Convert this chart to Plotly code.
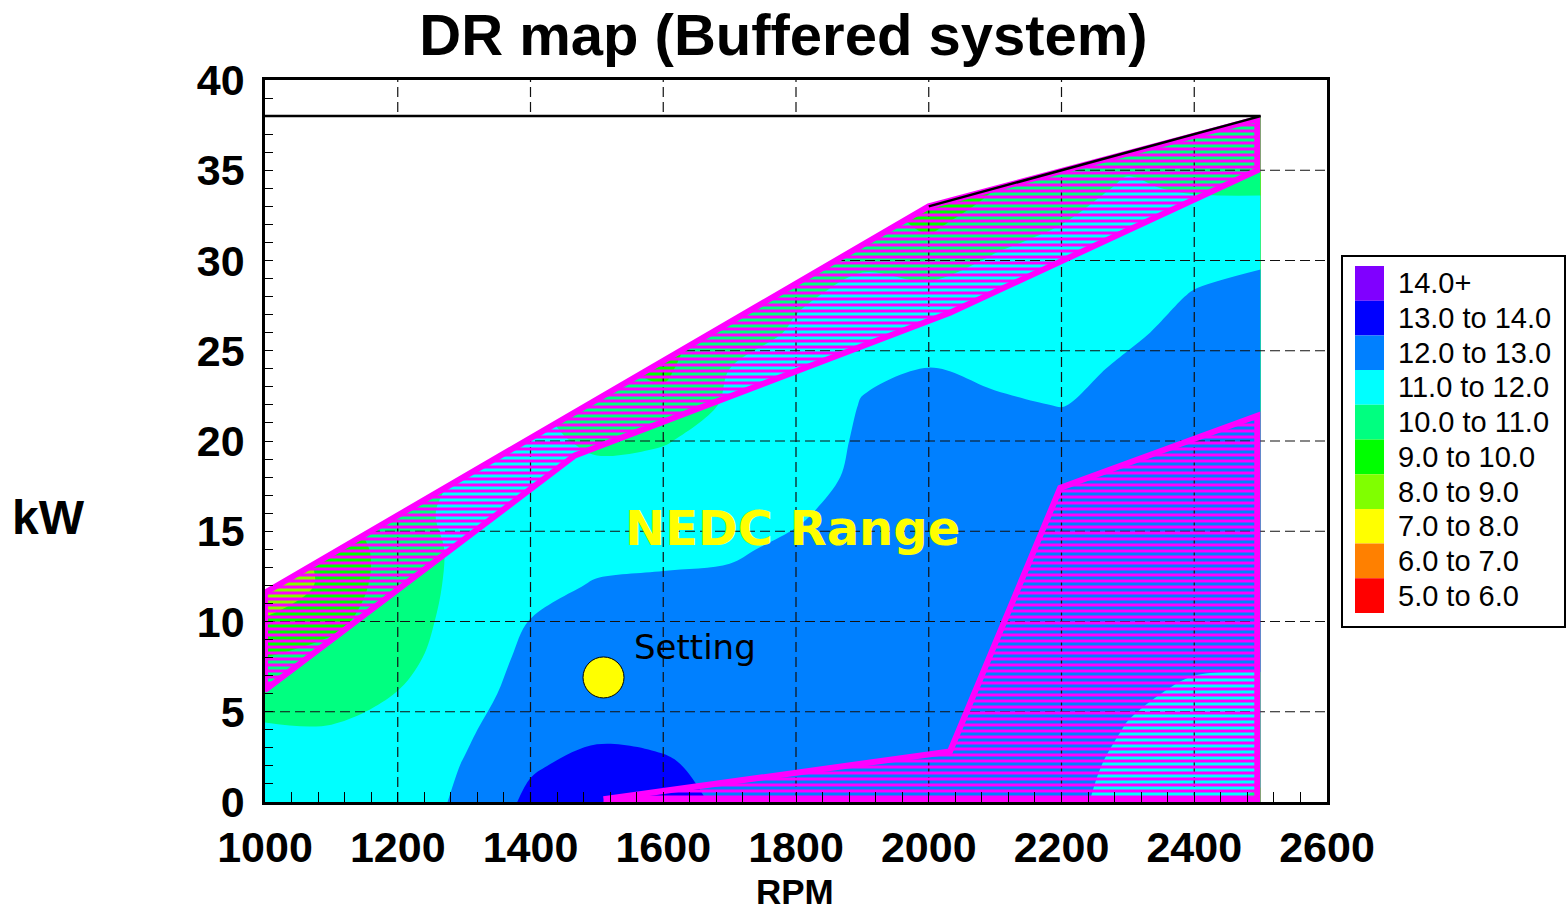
import plotly.graph_objects as go

# ---------------- data ----------------
rpm_grid = [1000, 1100, 1200, 1300, 1400, 1500, 1600, 1700, 1800, 1900, 2000, 2100, 2200, 2300, 2400, 2500]
kw_grid = [0, 2, 4, 6, 8, 10, 12, 14, 16, 18, 20, 22, 24, 26, 28, 30, 32, 34, 36, 38]

# DR value read at each rpm column, from kW 0 (first) to kW 38 (last)
dr_1000 = [11.6, 11.4, 11.1, 10.6, 10.0, 9.2, 7.6, 8.0, 8.5, 9.0, 9.0, 9.0, 9.0, 9.0, 9.0, 9.0, 9.0, 9.0, 9.0, 9.0]
dr_1100 = [11.5, 11.3, 11.05, 10.7, 10.3, 9.8, 9.5, 9.6, 9.8, 10.0, 10.0, 10.0, 10.0, 10.0, 10.0, 10.0, 10.0, 10.0, 10.0, 10.0]
dr_1200 = [11.4, 11.3, 11.15, 11.02, 10.7, 10.5, 10.4, 10.3, 10.6, 10.6, 10.6, 10.6, 10.5, 10.5, 10.5, 10.5, 10.5, 10.5, 10.5, 10.5]
dr_1300 = [12.2, 12.05, 11.85, 11.6, 11.5, 11.4, 11.3, 11.3, 11.3, 11.1, 11.0, 10.9, 10.8, 10.7, 10.6, 10.5, 10.5, 10.5, 10.5, 10.5]
dr_1400 = [13.2, 12.9, 12.6, 12.4, 12.2, 12.02, 11.8, 11.6, 11.4, 11.3, 11.15, 11.0, 10.8, 10.6, 10.5, 10.4, 10.4, 10.4, 10.4, 10.4]
dr_1500 = [13.6, 13.3, 12.8, 12.7, 12.5, 12.35, 12.05, 11.8, 11.5, 11.15, 10.9, 10.6, 10.2, 10.0, 10.0, 10.0, 10.0, 10.0, 10.0, 10.0]
dr_1600 = [13.4, 13.1, 12.8, 12.6, 12.45, 12.3, 12.1, 11.85, 11.55, 11.3, 10.95, 10.3, 9.8, 9.6, 9.6, 9.6, 9.6, 9.6, 9.6, 9.6]
dr_1700 = [12.8, 12.75, 12.6, 12.5, 12.4, 12.3, 12.15, 11.9, 11.7, 11.5, 11.3, 11.15, 11.0, 10.6, 10.2, 10.0, 10.0, 10.0, 10.0, 10.0]
dr_1800 = [12.7, 12.65, 12.6, 12.55, 12.5, 12.4, 12.3, 12.15, 11.9, 11.6, 11.4, 11.3, 11.2, 11.1, 10.9, 10.5, 10.2, 10.0, 10.0, 10.0]
dr_1900 = [12.6, 12.6, 12.55, 12.5, 12.5, 12.45, 12.4, 12.35, 12.3, 12.2, 12.15, 12.05, 11.85, 11.6, 11.2, 10.9, 10.5, 10.2, 10.0, 10.0]
dr_2000 = [12.6, 12.6, 12.6, 12.55, 12.5, 12.5, 12.45, 12.4, 12.35, 12.3, 12.25, 12.15, 12.01, 11.7, 11.3, 10.6, 9.8, 9.5, 9.5, 9.5]
dr_2100 = [12.6, 12.6, 12.6, 12.55, 12.5, 12.5, 12.45, 12.4, 12.35, 12.3, 12.25, 12.1, 11.85, 11.6, 11.35, 11.1, 10.6, 10.0, 9.8, 9.8]
dr_2200 = [12.4, 12.45, 12.5, 12.5, 12.5, 12.5, 12.45, 12.4, 12.35, 12.3, 12.2, 11.98, 11.8, 11.6, 11.4, 11.25, 11.0, 10.7, 10.4, 10.2]
dr_2300 = [11.45, 11.7, 11.95, 12.15, 12.3, 12.4, 12.4, 12.4, 12.4, 12.35, 12.3, 12.2, 12.1, 11.9, 11.7, 11.5, 11.3, 11.1, 10.8, 10.5]
dr_2400 = [11.3, 11.4, 11.6, 11.85, 12.15, 12.3, 12.35, 12.4, 12.4, 12.4, 12.4, 12.35, 12.3, 12.2, 12.05, 11.8, 11.5, 10.9, 10.7, 10.5]
dr_2500 = [10.8, 11.3, 11.6, 11.85, 12.1, 12.25, 12.3, 12.35, 12.35, 12.35, 12.35, 12.35, 12.3, 12.25, 12.15, 11.95, 11.4, 10.9, 10.6, 10.3]

# Maximum power line (top of map)
max_power_rpm = [1000, 2000, 2500]
max_power_kw = [11.6, 33.0, 38.0]

# Hatched zones (outside NEDC range)
upper_zone_rpm = [1000, 2000, 2495, 2495, 2032, 1467, 1000, 1000]
upper_zone_kw = [11.6, 33.0, 37.85, 35.0, 27.1, 19.2, 6.2, 11.6]
lower_zone_rpm = [1510, 2032, 2198, 2495, 2495, 1510]
lower_zone_kw = [0.15, 2.8, 17.4, 21.4, 0.1, 0.15]

# Setting point
setting_rpm = [1510]
setting_kw = [6.9]

# Axes ticks / grid
x_grid_vals = [1200, 1400, 1600, 1800, 2000, 2200, 2400]
y_grid_vals = [5, 10, 15, 20, 25, 30, 35]

# Legend
legend_labels = ["14.0+", "13.0 to 14.0", "12.0 to 13.0", "11.0 to 12.0", "10.0 to 11.0",
                 "9.0 to 10.0", "8.0 to 9.0", "7.0 to 8.0", "6.0 to 7.0", "5.0 to 6.0"]
legend_colors = ["#8000FF", "#0000FF", "#0080FF", "#00FFFF", "#00FF80",
                 "#00FF00", "#80FF00", "#FFFF00", "#FF8000", "#FF0000"]

# ---------------- build ----------------
W, H = 1567, 911
L, R, T, B = 265, 1327, 80, 802


def px_x(p):
    return (p - L) / (R - L)


def px_y(p):
    return (B - p) / (B - T)


columns = [dr_1000, dr_1100, dr_1200, dr_1300, dr_1400, dr_1500, dr_1600, dr_1700,
           dr_1800, dr_1900, dr_2000, dr_2100, dr_2200, dr_2300, dr_2400, dr_2500]
z = [[col[i] for col in columns] for i in range(len(kw_grid))]

band_colors = ["#FF0000"] + legend_colors[::-1]
n = len(band_colors) - 1
colorscale = [[i / n, c] for i, c in enumerate(band_colors)]

fig = go.Figure()

fig.add_trace(go.Contour(
    x=rpm_grid, y=kw_grid, z=z,
    autocontour=False,
    contours=dict(start=5, end=14, size=1, coloring="fill", showlines=False),
    colorscale=colorscale, showscale=False,
    line=dict(width=0), hoverinfo="skip",
))

# grid lines drawn over the map
gx, gy = [], []
for v in x_grid_vals:
    gx += [v, v, None]
    gy += [0, 40, None]
hx, hy = [], []
for v in y_grid_vals:
    hx += [1000, 2600, None]
    hy += [v, v, None]
grid_line = dict(color="#111111", width=1.2, dash="10px,5px")
fig.add_trace(go.Scatter(x=gx, y=gy, mode="lines", line=grid_line, hoverinfo="skip", showlegend=False))
fig.add_trace(go.Scatter(x=hx, y=hy, mode="lines", line=grid_line, hoverinfo="skip", showlegend=False))

# white area above the maximum power line
mask_x = max_power_rpm + [max_power_rpm[-1], max_power_rpm[0]]
mask_y = max_power_kw + [38, 38]
fig.add_trace(go.Scatter(x=mask_x, y=mask_y, fill="toself", fillcolor="white", mode="lines",
                         line=dict(width=0, color="white"), hoverinfo="skip", showlegend=False))

hatch = dict(shape="-", fgcolor="#FF00FF", bgcolor="rgba(0,0,0,0)", size=6, solidity=0.5,
             fgopacity=1)
for xs, ys in [(upper_zone_rpm, upper_zone_kw), (lower_zone_rpm, lower_zone_kw)]:
    fig.add_trace(go.Scatter(x=xs, y=ys, fill="toself", fillcolor="rgba(0,0,0,0)", fillpattern=hatch,
                             mode="lines", line=dict(color="#FF00FF", width=6),
                             hoverinfo="skip", showlegend=False))

# black border of the map (top + max power beyond 2000 rpm)
fig.add_trace(go.Scatter(x=[max_power_rpm[0], max_power_rpm[-1], max_power_rpm[1]],
                         y=[38, max_power_kw[-1], max_power_kw[1]],
                         mode="lines", line=dict(color="black", width=2.5),
                         hoverinfo="skip", showlegend=False))

fig.add_trace(go.Scatter(x=setting_rpm, y=setting_kw, mode="markers",
                         marker=dict(size=41, color="#FFFF00", line=dict(color="black", width=1)),
                         hoverinfo="skip", showlegend=False))

annotations = [
    dict(x=1553, y=8.6, xref="x", yref="y", text="Setting", showarrow=False, xanchor="left",
         yanchor="middle", font=dict(family="DejaVu Sans", size=34, color="black")),
    dict(x=1795, y=15.2, xref="x", yref="y", text="NEDC Range", showarrow=False,
         xanchor="center", yanchor="middle",
         font=dict(family="DejaVu Sans", size=48, color="#FFFF00", weight="bold")),
    dict(x=px_x(48), y=px_y(517), xref="paper", yref="paper", text="kW", showarrow=False,
         xanchor="center", yanchor="middle",
         font=dict(family="Liberation Sans", size=48, color="black", weight="bold")),
    dict(x=px_x(795), y=px_y(892), xref="paper", yref="paper", text="RPM", showarrow=False,
         xanchor="center", yanchor="middle",
         font=dict(family="Liberation Sans", size=35, color="black", weight="bold")),
]

shapes = [dict(type="rect", xref="paper", yref="paper", x0=px_x(1342), x1=px_x(1565),
               y0=px_y(627), y1=px_y(256), line=dict(color="black", width=2), fillcolor="white",
               layer="above")]
row_h = 34.7
for i, (lab, col) in enumerate(zip(legend_labels, legend_colors)):
    top = 266 + row_h * i
    shapes.append(dict(type="rect", xref="paper", yref="paper", x0=px_x(1355), x1=px_x(1384),
                       y0=px_y(top + row_h), y1=px_y(top), line=dict(width=0), fillcolor=col,
                       layer="above"))
    annotations.append(dict(x=px_x(1396), y=px_y(top + row_h / 2), xref="paper", yref="paper",
                            text=lab, showarrow=False, xanchor="left", yanchor="middle",
                            font=dict(family="Liberation Sans", size=29, color="black")))

tickfont = dict(family="Liberation Sans", size=43, color="black", weight="bold")
fig.update_layout(
    width=W, height=H, autosize=False,
    margin=dict(l=L, r=W - R, t=T, b=H - B),
    paper_bgcolor="white", plot_bgcolor="white",
    showlegend=False,
    title=dict(text="DR map (Buffered system)", x=0.5, xref="container", xanchor="center",
               y=1 - 35 / H, yref="container", yanchor="middle",
               font=dict(family="Liberation Sans", size=58, color="black", weight="bold")),
    xaxis=dict(range=[1000, 2600], tick0=1000, dtick=200, showgrid=False, zeroline=False,
               showline=True, linecolor="black", linewidth=2.5, mirror=True,
               ticks="inside", ticklen=10, tickwidth=1.2, tickcolor="black",
               minor=dict(dtick=40, ticks="inside", ticklen=10, tickwidth=1.2, tickcolor="black",
                          showgrid=False),
               tickfont=tickfont, ticklabelstandoff=6),
    yaxis=dict(range=[0, 40], tick0=0, dtick=5, showgrid=False, zeroline=False,
               showline=True, linecolor="black", linewidth=2.5, mirror=True,
               ticks="inside", ticklen=8, tickwidth=1.2, tickcolor="black",
               minor=dict(dtick=1, ticks="inside", ticklen=8, tickwidth=1.2, tickcolor="black",
                          showgrid=False),
               tickfont=tickfont, ticklabelstandoff=9),
    annotations=annotations,
    shapes=shapes,
)

fig.write_html("out.html")
